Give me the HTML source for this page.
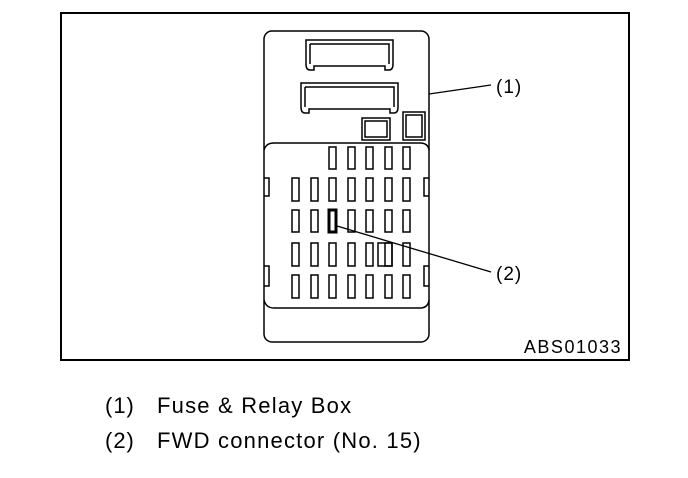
<!DOCTYPE html>
<html><head><style>
body{margin:0;background:#fff;width:688px;height:478px;overflow:hidden}
svg{display:block}
text{font-family:"Liberation Sans",sans-serif;fill:#000}
</style></head><body>
<svg width="688" height="478" viewBox="0 0 688 478">
<rect x="61" y="13" width="568" height="347" fill="none" stroke="#000" stroke-width="2"/>
<g fill="none" stroke="#000" stroke-width="1.5">
<rect x="264" y="31" width="165" height="311" rx="8"/>
<path d="M264 150 Q266 143 274 143 L420 143 Q428 143 429 150"/>
<path d="M264 300 Q266 308 274 308 L420 308 Q428 308 429 300"/>
<path d="M306 40 h87 v24 q0 6 -4 6 h-4 v-4 h-71 v4 h-4 q-4 0 -4 -6z"/>
<path d="M310 44 h79 v20 M310 44 v20"/>
<path d="M301 83 h97 v24 q0 6 -4 6 h-4 v-4 h-81 v4 h-4 q-4 0 -4 -6z"/>
<path d="M305 87 h89 v20 M305 87 v20"/>
<rect x="362" y="118" width="28" height="22"/><rect x="365" y="121" width="22" height="16"/>
<rect x="403" y="112" width="22" height="28"/><rect x="406" y="115" width="16" height="22"/>
<path d="M264 178 h5 v18 h-5 M429 178 h-5 v18 h5"/>
<path d="M264 266 h5 v20 h-5 M429 266 h-5 v20 h5"/>
</g>
<g fill="none" stroke="#000" stroke-width="1.5">
<rect x="329" y="147" width="7" height="22"/><rect x="348" y="147" width="7" height="22"/><rect x="366" y="147" width="7" height="22"/><rect x="385" y="147" width="7" height="22"/><rect x="403" y="147" width="7" height="22"/>
<rect x="292" y="178" width="7" height="23"/><rect x="311" y="178" width="7" height="23"/><rect x="329" y="178" width="7" height="23"/><rect x="348" y="178" width="7" height="23"/><rect x="366" y="178" width="7" height="23"/><rect x="385" y="178" width="7" height="23"/><rect x="403" y="178" width="7" height="23"/>
<rect x="292" y="210" width="7" height="22"/><rect x="311" y="210" width="7" height="22"/><rect x="348" y="210" width="7" height="22"/><rect x="366" y="210" width="7" height="22"/><rect x="385" y="210" width="7" height="22"/><rect x="403" y="210" width="7" height="22"/>
<rect x="292" y="243" width="7" height="23"/><rect x="311" y="243" width="7" height="23"/><rect x="329" y="243" width="7" height="23"/><rect x="348" y="243" width="7" height="23"/><rect x="366" y="243" width="7" height="23"/><rect x="378" y="243" width="14" height="23"/><rect x="385" y="243" width="7" height="23"/><rect x="403" y="243" width="7" height="23"/>
<rect x="292" y="275" width="7" height="23"/><rect x="311" y="275" width="7" height="23"/><rect x="329" y="275" width="7" height="23"/><rect x="348" y="275" width="7" height="23"/><rect x="366" y="275" width="7" height="23"/><rect x="385" y="275" width="7" height="23"/><rect x="403" y="275" width="7" height="23"/>
</g>
<rect x="329" y="210" width="7" height="22" fill="none" stroke="#000" stroke-width="3"/>
<line x1="429" y1="94" x2="491" y2="85" stroke="#000" stroke-width="1.3"/>
<line x1="337" y1="226" x2="491" y2="272" stroke="#000" stroke-width="1.3"/>
<text x="496" y="93" font-size="19" letter-spacing="1">(1)</text>
<text x="496" y="280" font-size="19" letter-spacing="1">(2)</text>
<text x="622" y="353" font-size="18" letter-spacing="1.5" text-anchor="end">ABS01033</text>
<text x="105" y="413" font-size="22" letter-spacing="1">(1)</text>
<text x="157" y="413" font-size="22" letter-spacing="1.2">Fuse &amp; Relay Box</text>
<text x="105" y="448" font-size="22" letter-spacing="1">(2)</text>
<text x="157" y="448" font-size="22" letter-spacing="1.2">FWD connector (No. 15)</text>
</svg>
</body></html>
